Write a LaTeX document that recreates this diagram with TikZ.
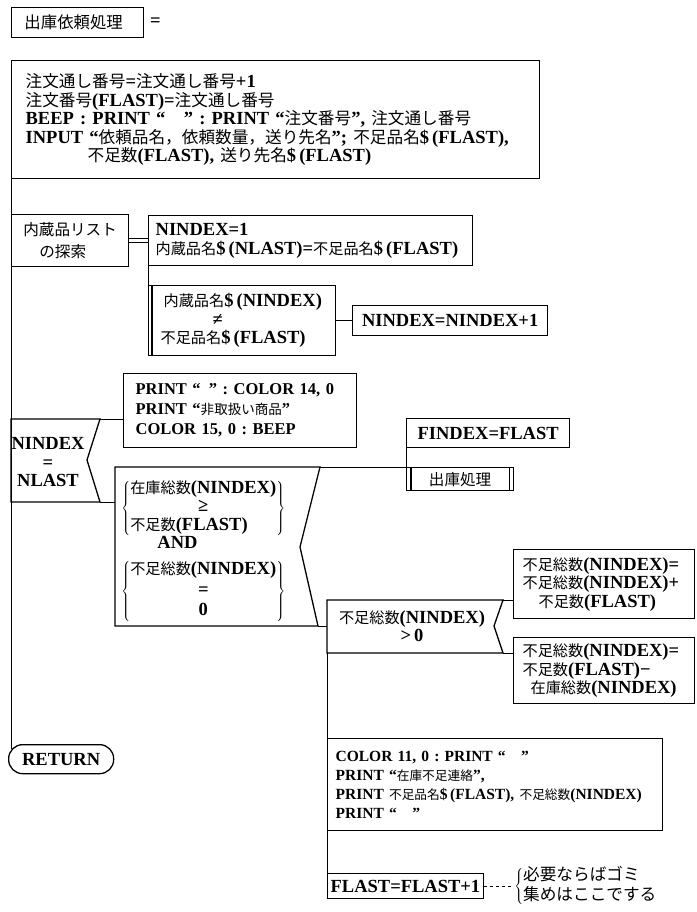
\documentclass[tikz,border=0pt]{standalone}
\usepackage{fontspec}
\setmainfont{Liberation Serif}
\newfontfamily\jpfont{Noto Sans CJK JP}[Scale=0.82]
\newfontfamily\jpwide{Noto Sans CJK JP}[Scale=0.9]
\newcommand\jp[1]{{\jpfont\mdseries#1}}
\newcommand\jpw[1]{{\jpwide\mdseries#1}}
\usetikzlibrary{positioning}
\begin{document}
\frenchspacing
\begin{tikzpicture}[x=1pt,y=-1pt,line width=.8pt,font=\bfseries\fontsize{18.5}{18.5}\selectfont,
  pbox/.style={draw,line width=1.3pt,anchor=north west,align=left,inner ysep=0pt}]
\useasboundingbox (0,0) rectangle (696,912);
\node[pbox,minimum width=132pt,minimum height=30pt,font=\jpfont\mdseries\fontsize{20}{20}\selectfont] (title) at (11,7) {出庫依頼処理\hspace{8pt}};
\node[right=2pt of title] (eq) {=};
\node[pbox,inner xsep=14pt,text width=500pt,minimum height=118pt] (order) at (11,60) {\jpw{注文通し番号}=\jpw{注文通し番号}+1\\
\jpw{注文番号}(FLAST)=\jpw{注文通し番号}\\
BEEP : PRINT “\quad” : PRINT “\jpw{注文番号}”, \jpw{注文通し番号}\\
INPUT “\jpw{依頼品名，依頼数量，送り先名}”; \jpw{不足品名}\$\,(FLAST),\\
\hspace*{62pt}\jpw{不足数}(FLAST), \jpw{送り先名}\$\,(FLAST)};
\node[pbox,minimum width=117pt,minimum height=52pt,font=\jpfont\mdseries\fontsize{19}{22}\selectfont] (search) at (11,214) {内蔵品リスト\\\hspace*{16pt}の探索};
\node[pbox,inner xsep=7pt,text width=310pt,minimum height=50pt] (start) at (148,215) {NINDEX=1\\\jp{内蔵品名}\$\,(NLAST)=\jp{不足品名}\$\,(FLAST)};
\draw[double,double distance=3pt] (search) -- (start);
\node[pbox,inner xsep=12pt,text width=163pt,minimum height=70pt] (loop) at (148,285) {\hspace*{3pt}\jp{内蔵品名}\$\,(NINDEX)\\\hspace*{52pt}≠\\\jp{不足品名}\$\,(FLAST)};
\draw[line width=1.3pt] ([xshift=4pt]loop.north west) -- ([xshift=4pt]loop.south west);
\draw (start.south west) -- (loop.north west);
\node[pbox,minimum width=195pt,minimum height=30pt] (incr) at (352,305) {NINDEX=NINDEX+1};
\draw (loop) -- (incr);
\draw[line width=1.3pt] (11,419) coordinate (d1) -- (100,419) coordinate (d1t) -- (87,460) -- (100,502) coordinate (d1b) -- (11,502) -- cycle;
\node[align=center,inner sep=0pt,anchor=north] (same) at (48,437) {NINDEX\\=\\NLAST};
\node[pbox,inner xsep=12pt,text width=209pt,minimum height=74pt,font=\bfseries\fontsize{16.5}{20}\selectfont] (warn) at (123,373) {PRINT “\enspace” : COLOR 14, 0\\PRINT “\jp{非取扱い商品}”\\COLOR 15, 0 : BEEP};
\draw (d1t) -- (d1t -| warn.west);
\draw[line width=1.3pt] (115,467) coordinate (d2) -- (320,467) coordinate (d2t) -- (300,547) -- (318,626) coordinate (d2b) -- (115,626) -- cycle;
\draw (d1b) -- (d1b -| d2);
\node[inner sep=0pt,anchor=north west] (stock) at (121,480) {\begin{tabular}{@{}l@{}}
$\left\{\begin{tabular}{@{}l@{}}\jp{在庫総数}(NINDEX)\\\multicolumn{1}{@{}c@{}}{≥}\\\jp{不足数}(FLAST)\end{tabular}\right\}$\\[2pt]
\hspace*{36pt}AND\\[7pt]
$\left\{\begin{tabular}{@{}l@{}}\jp{不足総数}(NINDEX)\\[2pt]\multicolumn{1}{@{}c@{}}{=}\\[2pt]\multicolumn{1}{@{}c@{}}{0}\end{tabular}\right\}$
\end{tabular}};
\node[pbox,minimum width=163pt,minimum height=29pt] (find) at (406,418) {FINDEX=FLAST};
\node[pbox,minimum width=107pt,minimum height=23pt,font=\jpfont\mdseries\fontsize{19}{19}\selectfont] (ship) at (406,467) {出庫処理};
\draw[line width=1.3pt] ([xshift=5pt]ship.north west) -- ([xshift=5pt]ship.south west) ([xshift=-5pt]ship.north east) -- ([xshift=-5pt]ship.south east);
\draw (d2t) -- (ship.north west);
\draw (find.south west) -- (ship.north west);
\draw[line width=1.3pt] (327,600) coordinate (d3) -- (503,600) coordinate (d3t) -- (494,626) -- (503,653) coordinate (d3b) -- (327,653) coordinate (d3l) -- cycle;
\draw (d2b) -- (d2b -| d3);
\node[align=center,inner sep=0pt,anchor=north] (short) at (412,610) {\jp{不足総数}(NINDEX)\\>\,0};
\node[pbox,inner xsep=9pt,text width=163pt,minimum height=69pt] (add) at (513,549) {\jp{不足総数}(NINDEX)=\\\jp{不足総数}(NINDEX)+\\\hspace*{16pt}\jp{不足数}(FLAST)};
\node[pbox,inner xsep=9pt,text width=163pt,minimum height=66pt] (sub) at (513,637) {\jp{不足総数}(NINDEX)=\\\jp{不足数}(FLAST)−\\\hspace*{8pt}\jp{在庫総数}(NINDEX)};
\draw (d3t) -- (d3t -| add.west);
\draw (d3b) -- (d3b -| sub.west);
\node[pbox,inner xsep=8pt,text width=319pt,minimum height=92pt,font=\bfseries\fontsize{15.5}{19}\selectfont] (report) at (327,738) {COLOR 11, 0 : PRINT “\quad”\\PRINT “\jp{在庫不足連絡}”,\\PRINT \jp{不足品名}\$\,(FLAST), \jp{不足総数}(NINDEX)\\PRINT “\quad”};
\draw (d3l) -- (report.north west);
\node[pbox,inner xsep=3pt,minimum width=151pt,minimum height=25pt] (next) at (327,873) {FLAST=FLAST+1};
\draw (report.south west) -- (next.north west);
\node[right=30pt of next,inner sep=0pt] (note) {$\left\{\begin{tabular}{@{}l@{}}\jpw{必要ならばゴミ}\\\jpw{集めはここでする}\end{tabular}\right.$};
\draw[dashed] (next) -- (note);
\node[draw,line width=1.3pt,rounded corners=14pt,minimum width=105pt,minimum height=29pt,anchor=north west] (ret) at (8,744) {RETURN};
\draw (order.south west) -- ([shift={(3,4.6)}]ret.north west);
\end{tikzpicture}
\end{document}
